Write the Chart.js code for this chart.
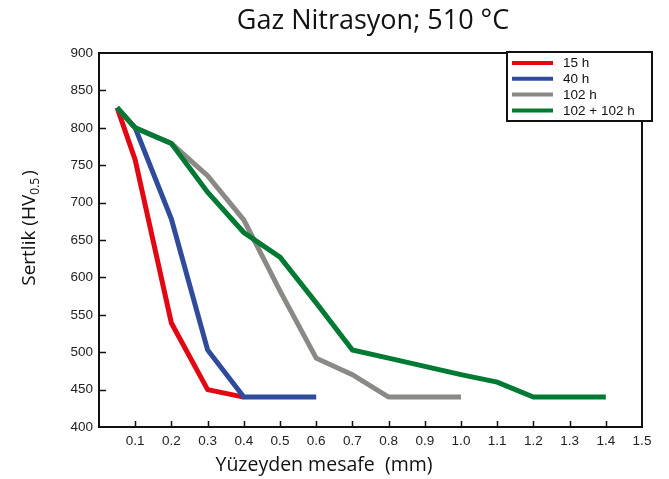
<!DOCTYPE html>
<html>
<head>
<meta charset="utf-8">
<script src="https://cdn.jsdelivr.net/npm/chart.js@4.4.0/dist/chart.umd.min.js"></script>
<style>
  html, body { margin: 0; padding: 0; background: #fff; }
  #wrap { width: 669px; height: 479px; }
</style>
</head>
<body>
<div id="wrap"><canvas id="chart" width="669" height="479"></canvas></div>
<script>
// Series (x in mm, y in HV0.5)
const labels = ['15 h', '40 h', '102 h', '102 + 102 h'];

const x15 = [0.05, 0.1, 0.2, 0.3, 0.4];
const y15 = [827, 757, 539, 450, 440];

const x40 = [0.05, 0.1, 0.2, 0.3, 0.4, 0.6];
const y40 = [827, 800, 678, 503, 440, 440];

const x102 = [0.05, 0.1, 0.2, 0.3, 0.4, 0.5, 0.6, 0.7, 0.8, 1.0];
const y102 = [827, 800, 779, 736, 677, 582, 492, 470, 440, 440];

const x204 = [0.05, 0.1, 0.2, 0.3, 0.4, 0.5, 0.6, 0.7, 0.8, 0.9, 1.0, 1.1, 1.2, 1.4];
const y204 = [827, 800, 779, 714, 660, 627, 566, 503, 492, 481, 470, 460, 440, 440];

const colors = ['#e30613', '#2f4b9b', '#8a8986', '#007a33'];

function pts(xs, ys) {
  return xs.map((x, i) => ({ x: x, y: ys[i] }));
}

// Title, axis titles, inward ticks, frame and legend
const decor = {
  id: 'decor',
  afterDraw(chart) {
    const ctx = chart.ctx;
    const a = chart.chartArea;
    const xs = chart.scales.x;
    const ys = chart.scales.y;
    ctx.save();

    // inward ticks
    ctx.strokeStyle = '#111';
    ctx.lineWidth = 1.5;
    ctx.beginPath();
    xs.ticks.forEach(t => {
      if (t.value <= 0.001 || t.value >= 1.499) return;
      const px = Math.round(xs.getPixelForValue(t.value)) + 0.5;
      ctx.moveTo(px, a.bottom);
      ctx.lineTo(px, a.bottom - 6);
    });
    ys.ticks.forEach(t => {
      if (t.value <= 400 || t.value >= 900) return;
      const py = Math.round(ys.getPixelForValue(t.value)) + 0.5;
      ctx.moveTo(a.left, py);
      ctx.lineTo(a.left + 7, py);
    });
    ctx.stroke();

    // frame
    ctx.lineWidth = 2;
    ctx.strokeStyle = '#111';
    ctx.strokeRect(a.left, a.top, a.right - a.left, a.bottom - a.top);

    // chart title
    ctx.fillStyle = '#111';
    ctx.textAlign = 'center';
    ctx.textBaseline = 'middle';
    ctx.font = '27px "Open Sans", sans-serif';
    ctx.fillText('Gaz Nitrasyon; 510 \u00B0C', 373, 21);

    // x axis title
    ctx.font = '19.5px "Open Sans", sans-serif';
    ctx.fillText('Y\u00FCzeyden mesafe  (mm)', 324, 465);

    // y axis title with subscript
    ctx.save();
    ctx.translate(28, 228);
    ctx.rotate(-Math.PI / 2);
    const main1 = 'Sertlik (HV';
    const sub = '0.5';
    const main2 = ')';
    ctx.font = '19px "Open Sans", sans-serif';
    const w1 = ctx.measureText(main1).width;
    const w3 = ctx.measureText(main2).width;
    ctx.font = '12px "Open Sans", sans-serif';
    const w2 = ctx.measureText(sub).width;
    const total = w1 + w2 + w3 + 2;
    let cx = -total / 2;
    ctx.textAlign = 'left';
    ctx.textBaseline = 'alphabetic';
    ctx.font = '19px "Open Sans", sans-serif';
    ctx.fillText(main1, cx, 7);
    cx += w1;
    ctx.font = '12px "Open Sans", sans-serif';
    ctx.fillText(sub, cx, 11);
    cx += w2 + 2;
    ctx.font = '19px "Open Sans", sans-serif';
    ctx.fillText(main2, cx, 7);
    ctx.restore();

    // legend box
    const lx = 507, ly = 52, lw = 145, lh = 69;
    ctx.fillStyle = '#fff';
    ctx.fillRect(lx, ly, lw, lh);
    ctx.lineWidth = 2;
    ctx.strokeStyle = '#111';
    ctx.strokeRect(lx, ly, lw, lh);
    ctx.font = '13.5px "Liberation Sans", Arial, sans-serif';
    ctx.textAlign = 'left';
    ctx.textBaseline = 'middle';
    chart.data.datasets.forEach((ds, i) => {
      const rowY = 63 + i * 15.8;
      ctx.strokeStyle = ds.borderColor;
      ctx.lineWidth = 4;
      ctx.beginPath();
      ctx.moveTo(512, rowY);
      ctx.lineTo(553, rowY);
      ctx.stroke();
      ctx.fillStyle = '#111';
      ctx.fillText(ds.label, 563, rowY + 0.5);
    });

    ctx.restore();
  }
};

new Chart(document.getElementById('chart'), {
  type: 'line',
  data: {
    datasets: [
      { label: labels[0], data: pts(x15, y15), borderColor: colors[0], order: 3 },
      { label: labels[1], data: pts(x40, y40), borderColor: colors[1], order: 2 },
      { label: labels[2], data: pts(x102, y102), borderColor: colors[2], order: 1 },
      { label: labels[3], data: pts(x204, y204), borderColor: colors[3], order: 0 }
    ]
  },
  options: {
    responsive: false,
    animation: false,
    devicePixelRatio: 1,
    layout: { padding: { top: 53, right: 27, left: 0, bottom: 0 } },
    elements: {
      line: { borderWidth: 5, tension: 0, fill: false, borderJoinStyle: 'miter', borderCapStyle: 'butt' },
      point: { radius: 0, hoverRadius: 0 }
    },
    plugins: {
      legend: { display: false },
      title: { display: false },
      tooltip: { enabled: false }
    },
    scales: {
      x: {
        type: 'linear',
        min: 0,
        max: 1.5,
        border: { display: false },
        grid: { display: false, drawTicks: false },
        afterFit(scale) { scale.height = 52; },
        ticks: {
          stepSize: 0.1,
          padding: 6,
          autoSkip: false,
          maxRotation: 0,
          color: '#222',
          font: { family: '"Liberation Sans", Arial, sans-serif', size: 13.5 },
          callback: v => (v < 0.001 ? '' : Number(v).toFixed(1))
        }
      },
      y: {
        min: 400,
        max: 900,
        border: { display: false },
        grid: { display: false, drawTicks: false },
        afterFit(scale) { scale.width = 99; },
        ticks: {
          stepSize: 50,
          padding: 6,
          color: '#222',
          font: { family: '"Liberation Sans", Arial, sans-serif', size: 13.5 }
        }
      }
    }
  },
  plugins: [decor]
});
</script>
</body>
</html>
